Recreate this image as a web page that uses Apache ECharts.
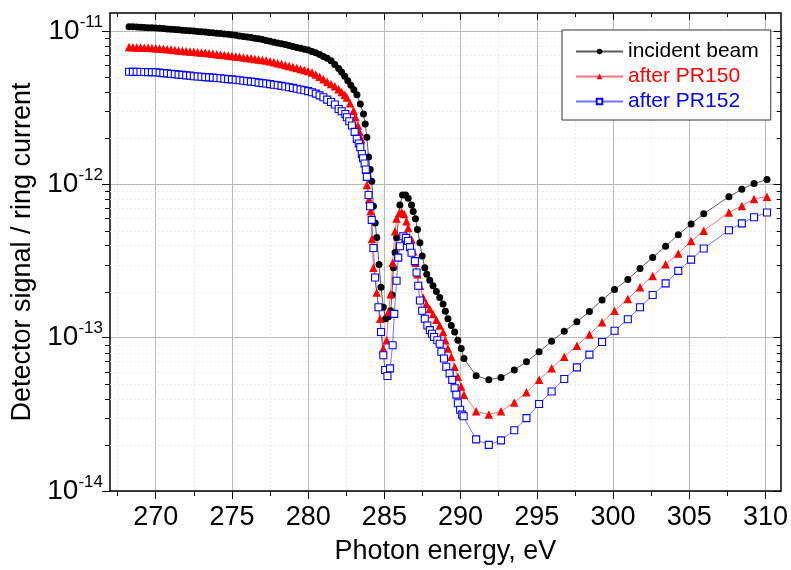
<!DOCTYPE html>
<html><head><meta charset="utf-8">
<script src="https://cdn.jsdelivr.net/npm/echarts@6/dist/echarts.min.js"></script>
<style>html,body{margin:0;padding:0;background:#fff}#c{width:791px;height:570px}</style>
</head><body><div id="c"></div>
<script>
// signal values are in units of 1e-12 (detector signal / ring current)
const SIGNAL_UNIT = 1e-12;

// dense pre-edge scan, shared energies (eV)
const flatEnergy = [268.25,268.5,268.75,269,269.25,269.5,269.75,270,270.25,270.5,270.75,271,271.25,271.5,271.75,272,272.25,272.5,272.75,273,273.25,273.5,273.75,274,274.25,274.5,274.75,275,275.25,275.5,275.75,276,276.25,276.5,276.75,277,277.25,277.5,277.75,278,278.25,278.5,278.75,279,279.25,279.5,279.75,280,280.25,280.5,280.75,281,281.25,281.5];
// coarse post-edge scan, shared energies (eV)
const tailEnergy = [291.02,291.85,292.65,293.52,294.32,295.15,295.97,296.80,297.63,298.45,299.28,300.10,300.97,301.77,302.60,303.45,304.28,305.12,305.95,307.60,308.45,309.25,310.10];

// incident beam
const beamFlat = [10.69,10.66,10.62,10.59,10.54,10.52,10.50,10.47,10.43,10.38,10.33,10.28,10.23,10.19,10.14,10.09,10.05,10.00,9.95,9.91,9.86,9.79,9.75,9.68,9.64,9.57,9.53,9.46,9.38,9.29,9.23,9.14,9.08,8.99,8.91,8.81,8.68,8.58,8.45,8.36,8.26,8.17,8.05,7.94,7.83,7.73,7.62,7.52,7.36,7.21,7.03,6.84,6.64,6.41];
const beamEdgeEnergy = [281.75,282.0,282.2,282.4,282.6,282.8,283.0,283.2,283.42,283.63,283.74,283.85,283.96,284.07,284.17,284.28,284.4,284.5,284.65,284.78,284.93,285.08,285.26,285.41,285.5,285.59,285.7,285.80,286.02,286.19,286.39,286.56,286.78,286.89,287.04,287.17,287.33,287.48,287.65,287.78,287.98,288.19,288.41,288.63,288.85,289.0,289.17,289.39,289.61,289.82,290.04,290.22];
const beamEdge = [6.05,5.70,5.38,5.08,4.75,4.44,4.15,3.85,3.34,2.88,2.48,2.03,1.51,1.25,1.05,0.72,0.56,0.45,0.30,0.213,0.158,0.133,0.137,0.150,0.19,0.286,0.36,0.448,0.735,0.853,0.853,0.813,0.735,0.665,0.597,0.507,0.416,0.341,0.286,0.259,0.237,0.218,0.200,0.183,0.166,0.149,0.133,0.120,0.109,0.0962,0.0849,0.0731];
const beamTail = [0.0565,0.0531,0.0551,0.0615,0.0697,0.0809,0.0948,0.110,0.127,0.148,0.176,0.206,0.240,0.283,0.334,0.395,0.470,0.551,0.643,0.832,0.929,1.012,1.076];

// after PR150
const pr150Flat = [7.87,7.85,7.83,7.82,7.80,7.78,7.76,7.74,7.69,7.66,7.60,7.57,7.52,7.48,7.43,7.40,7.36,7.33,7.28,7.24,7.21,7.16,7.11,7.06,7.01,6.98,6.93,6.89,6.84,6.79,6.73,6.68,6.64,6.58,6.53,6.47,6.43,6.35,6.27,6.18,6.10,6.00,5.92,5.83,5.75,5.66,5.58,5.50,5.37,5.21,5.04,4.85,4.68,4.51];
const pr150EdgeEnergy = [281.75,282.0,282.2,282.4,282.54,282.75,282.98,283.1,283.26,283.38,283.48,283.63,283.78,283.85,284.0,284.1,284.18,284.28,284.5,284.72,284.93,285.15,285.26,285.41,285.54,285.70,285.80,285.98,286.13,286.3,286.45,286.56,286.78,286.89,287.04,287.17,287.33,287.54,287.76,287.98,288.19,288.41,288.63,288.85,289.0,289.17,289.39,289.61,289.82,290.04,290.22];
const pr150Edge = [4.37,4.18,4.00,3.85,3.69,3.38,3.02,2.75,2.42,2.20,1.98,1.55,1.24,0.99,0.80,0.67,0.44,0.286,0.197,0.133,0.0849,0.0962,0.147,0.192,0.308,0.494,0.60,0.65,0.66,0.64,0.574,0.52,0.437,0.367,0.308,0.259,0.218,0.183,0.166,0.154,0.143,0.131,0.120,0.109,0.0962,0.0849,0.0750,0.0647,0.0557,0.0480,0.0425];
const pr150Tail = [0.0331,0.0315,0.0331,0.0378,0.0440,0.0531,0.0631,0.0750,0.0887,0.105,0.126,0.150,0.179,0.213,0.253,0.301,0.354,0.427,0.499,0.656,0.724,0.804,0.832];

// after PR152
const pr152Flat = [5.43,5.42,5.42,5.41,5.41,5.40,5.40,5.39,5.36,5.32,5.30,5.26,5.24,5.20,5.18,5.14,5.12,5.08,5.06,5.04,5.01,4.99,4.97,4.94,4.92,4.89,4.86,4.84,4.81,4.78,4.74,4.71,4.68,4.65,4.61,4.58,4.55,4.51,4.47,4.43,4.39,4.35,4.30,4.26,4.21,4.16,4.11,4.06,3.99,3.91,3.81,3.70,3.57,3.45];
const pr152EdgeEnergy = [281.75,282.0,282.2,282.44,282.54,282.7,282.87,283.05,283.19,283.32,283.42,283.52,283.6,283.70,283.78,283.85,283.96,284.06,284.17,284.28,284.39,284.61,284.78,284.93,285.05,285.20,285.37,285.54,285.65,285.80,285.91,286.02,286.24,286.41,286.55,286.68,286.78,287.0,287.11,287.22,287.33,287.48,287.65,287.82,287.98,288.12,288.26,288.47,288.63,288.74,288.91,289.06,289.28,289.45,289.61,289.72,289.82,289.97,290.10,290.2];
const pr152Edge = [3.32,3.10,3.00,2.88,2.74,2.58,2.42,2.20,1.98,1.85,1.75,1.58,1.48,1.37,1.25,1.12,0.853,0.72,0.587,0.385,0.247,0.158,0.109,0.0769,0.0615,0.0562,0.0631,0.0893,0.143,0.235,0.333,0.395,0.459,0.448,0.427,0.390,0.358,0.316,0.266,0.218,0.175,0.150,0.133,0.120,0.112,0.106,0.101,0.0962,0.0914,0.0809,0.0731,0.0647,0.0585,0.0531,0.0468,0.0425,0.0374,0.0339,0.0315,0.0307];
const pr152Tail = [0.0217,0.0200,0.0214,0.0249,0.0299,0.0369,0.0446,0.0538,0.0640,0.0776,0.0938,0.111,0.132,0.158,0.190,0.226,0.273,0.323,0.382,0.502,0.557,0.610,0.656];

// axis ticks
const xTickLabels = [270,275,280,285,290,295,300,305,310];
const yDecades = [-14,-13,-12,-11];            // exponents of 10
const yMinorMantissas = [2,3,4,5,6,7,8,9];

const X_MIN = 267, X_MAX = 311;
const Y_MIN = -14, Y_MAX = -10.882;             // log10 of signal
const FONT = "'Liberation Sans', Arial, sans-serif";

function toPoints(energies, values) {
  return energies.map((e, i) => [e, Math.log10(values[i] * SIGNAL_UNIT)]);
}
function series(parts) {
  let pts = [];
  parts.forEach(p => { pts = pts.concat(toPoints(p[0], p[1])); });
  return pts;
}
const beamData = series([[flatEnergy, beamFlat], [beamEdgeEnergy, beamEdge], [tailEnergy, beamTail]]);
const pr150Data = series([[flatEnergy, pr150Flat], [pr150EdgeEnergy, pr150Edge], [tailEnergy, pr150Tail]]);
const pr152Data = series([[flatEnergy, pr152Flat], [pr152EdgeEnergy, pr152Edge], [tailEnergy, pr152Tail]]);

const minorY = [];
yDecades.forEach(d => yMinorMantissas.forEach(m => {
  const v = d + Math.log10(m);
  if (v < Y_MAX) minorY.push([X_MIN, v]);
}));

const chart = echarts.init(document.getElementById('c'), null, {renderer: 'canvas'});
const axisColor = '#000';
chart.setOption({
  animation: false,
  backgroundColor: '#fff',
  textStyle: {fontFamily: FONT},
  grid: {left: 110, right: 8, top: 13, bottom: 75, containLabel: false},
  legend: {
    orient: 'vertical', left: 562, top: 30,
    itemWidth: 47, itemHeight: 7, itemGap: 4,
    padding: [11, 12, 8, 13],
    borderColor: '#333', borderWidth: 1, backgroundColor: '#fff',
    textStyle: {fontFamily: FONT, fontSize: 21},
    data: [
      {name: 'incident beam', textStyle: {color: '#000'}},
      {name: 'after PR150', textStyle: {color: '#ff0000'}},
      {name: 'after PR152', textStyle: {color: '#0000ff'}}
    ]
  },
  xAxis: [{
    type: 'value', position: 'bottom', min: X_MIN, max: X_MAX, splitNumber: 9,
    name: 'Photon energy, eV', nameLocation: 'middle', nameGap: 47,
    nameTextStyle: {fontFamily: FONT, fontSize: 27, color: '#000'},
    axisLine: {show: true, onZero: false, lineStyle: {color: axisColor, width: 1.5}},
    axisTick: {show: true, inside: false, length: 8, customValues: xTickLabels, lineStyle: {color: axisColor, width: 1}},
    minorTick: {show: true, splitNumber: 2, length: 5, lineStyle: {color: axisColor, width: 1}},
    axisLabel: {show: true, margin: 13, fontSize: 27, color: '#000', fontFamily: FONT, customValues: xTickLabels,
      formatter: v => (Math.abs(v % 5) < 1e-6 ? String(v) : '')},
    splitLine: {show: true, lineStyle: {color: '#b8b8b8', width: 1}},
    minorSplitLine: {show: true, lineStyle: {color: '#ebebeb', width: 1, type: [2, 2]}}
  }, {
    type: 'value', position: 'top', min: X_MIN, max: X_MAX, splitNumber: 9,
    axisLine: {show: true, onZero: false, lineStyle: {color: axisColor, width: 1.5}},
    axisTick: {show: true, inside: true, length: 7, customValues: xTickLabels, lineStyle: {color: axisColor}},
    minorTick: {show: true, splitNumber: 2, length: 4, lineStyle: {color: axisColor}},
    axisLabel: {show: false}, splitLine: {show: false}
  }],
  yAxis: [{
    type: 'value', position: 'left', min: Y_MIN, max: Y_MAX, splitNumber: 3,
    name: 'Detector signal / ring current', nameLocation: 'middle', nameGap: 60,
    nameTextStyle: {fontFamily: FONT, fontSize: 27, color: '#000'},
    axisLine: {show: true, onZero: false, lineStyle: {color: axisColor, width: 1.5}},
    axisTick: {show: true, inside: false, length: 8, customValues: yDecades, lineStyle: {color: axisColor}},
    axisLabel: {show: true, margin: 7, customValues: yDecades, color: '#000',
      formatter: v => (Math.abs(v - Math.round(v)) < 1e-6 ? '{b|10}{s|' + Math.round(v) + '}' : ''),
      rich: {
        b: {fontSize: 28, fontFamily: FONT, color: '#000'},
        s: {fontSize: 17, fontFamily: FONT, color: '#000', padding: [0, 0, 18, 0]}
      }},
    splitLine: {show: true, lineStyle: {color: '#b8b8b8', width: 1}}
  }, {
    type: 'value', position: 'right', min: Y_MIN, max: Y_MAX, splitNumber: 3,
    axisLine: {show: true, onZero: false, lineStyle: {color: axisColor, width: 1.5}},
    axisTick: {show: true, inside: true, length: 7, customValues: yDecades, lineStyle: {color: axisColor}},
    axisLabel: {show: false}, splitLine: {show: false}
  }],
  series: [{
    type: 'custom', name: 'minorTicks', silent: true, clip: false, z: 1,
    xAxisIndex: 0, yAxisIndex: 0,
    encode: {x: 0, y: 1},
    data: minorY,
    renderItem: function (params, api) {
      const y = api.value(1);
      const p0 = api.coord([X_MIN, y]);
      const p1 = api.coord([X_MAX, y]);
      const yy = Math.round(p0[1]) + 0.5;
      return {type: 'group', children: [
        {type: 'line', shape: {x1: p0[0], y1: yy, x2: p1[0], y2: yy}, style: {stroke: '#ebebeb', lineWidth: 1, lineDash: [2, 2]}},
        {type: 'line', shape: {x1: p0[0] - 5, y1: yy, x2: p0[0], y2: yy}, style: {stroke: '#000', lineWidth: 1}},
        {type: 'line', shape: {x1: p1[0] - 4, y1: yy, x2: p1[0], y2: yy}, style: {stroke: '#000', lineWidth: 1}}
      ]};
    }
  }, {
    type: 'line', name: 'incident beam', data: beamData, xAxisIndex: 0, yAxisIndex: 0,
    symbol: 'circle', symbolSize: 7, showAllSymbol: true,
    itemStyle: {color: '#000'},
    lineStyle: {color: '#000', width: 1, opacity: 0.65}
  }, {
    type: 'line', name: 'after PR150', data: pr150Data, xAxisIndex: 0, yAxisIndex: 0,
    symbol: 'triangle', symbolSize: 8.5, showAllSymbol: true,
    itemStyle: {color: '#ff0000'},
    lineStyle: {color: '#ff0000', width: 1, opacity: 0.55}
  }, {
    type: 'line', name: 'after PR152', data: pr152Data, xAxisIndex: 0, yAxisIndex: 0,
    symbol: 'rect', symbolSize: 7, showAllSymbol: true,
    itemStyle: {color: '#ffffff', borderColor: '#0000ff', borderWidth: 1.1},
    lineStyle: {color: '#0000ff', width: 1, opacity: 0.55}
  }]
});
</script>
</body></html>
